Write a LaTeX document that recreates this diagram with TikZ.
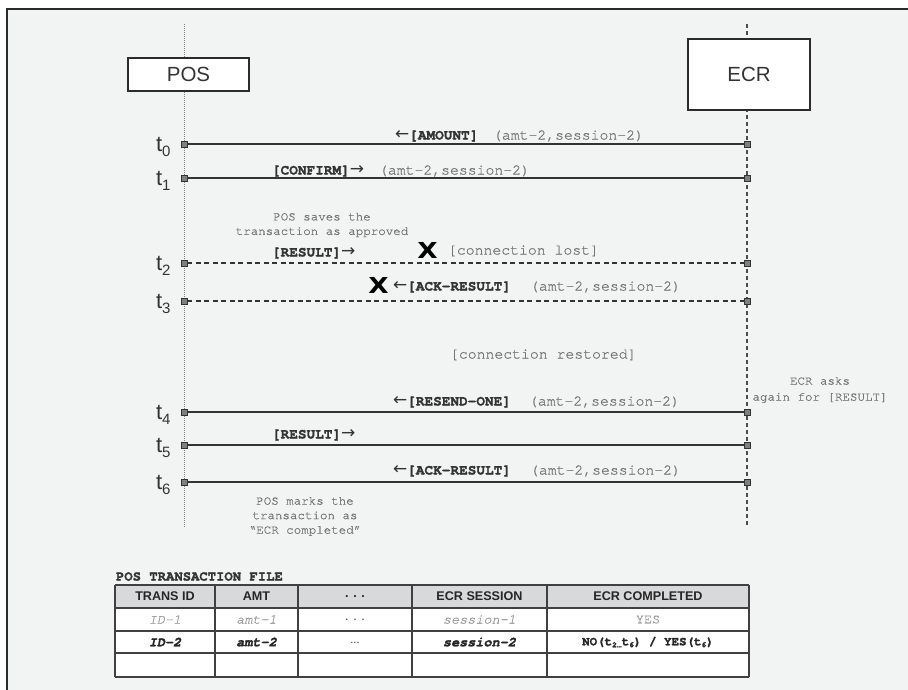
\documentclass[tikz,border=0pt]{standalone}
\usepackage{fontspec}
\setmainfont{Liberation Sans}
\setsansfont{Liberation Sans}
\setmonofont{TeX Gyre Cursor}[FakeBold=0.7, BoldFeatures={FakeBold=1.6}, BoldItalicFeatures={FakeBold=1.6}]
\newfontfamily\arrowfont{DejaVu Sans}
\newfontfamily\xfont{DejaVu Sans}
\usepackage{graphicx}
\definecolor{bgc}{HTML}{F2F3F3}
\definecolor{framec}{HTML}{2B2B2B}
\definecolor{darkc}{HTML}{333333}
\definecolor{midg}{HTML}{747474}
\definecolor{lightg}{HTML}{989898}
\definecolor{markc}{HTML}{7F7F7F}
\definecolor{hdr}{HTML}{D8D9DB}
\newcommand{\lar}{{\arrowfont\mdseries\fontsize{17}{17}\selectfont ←}}
\newcommand{\rar}{{\arrowfont\mdseries\fontsize{17}{17}\selectfont →}}
\newcommand{\sbs}[1]{\raisebox{-2pt}{\fontsize{8}{8}\selectfont #1}}
\tikzset{
 every node/.style={inner sep=0pt, outer sep=0pt},
 actor/.style={draw=framec, line width=2pt, fill=white, font=\fontsize{20.5}{24}\selectfont, text=darkc},
 msg/.style={draw=darkc, line width=1.1pt},
 lostmsg/.style={msg, dash pattern=on 5pt off 3.5pt},
 tick/.style={draw=darkc, fill=markc, line width=0.7pt, minimum size=6pt, inner sep=0pt},
 tlab/.style={anchor=base west, font=\fontsize{22}{22}\selectfont, text=darkc},
 cmd/.style={anchor=base west, font=\fontsize{14.4}{16}\selectfont\ttfamily\bfseries, text=darkc},
 arg/.style={anchor=base west, font=\fontsize{14.8}{16}\selectfont\ttfamily, text=midg},
 note/.style={align=center, font=\fontsize{12.5}{14.5}\selectfont\ttfamily, text=midg},
 xmark/.style={font=\fontsize{22}{22}\selectfont\xfont\bfseries, text=black},
 hcell/.style={font=\fontsize{12.6}{14}\selectfont\bfseries, text=black!85},
 r1cell/.style={font=\fontsize{13.5}{14}\selectfont\ttfamily\itshape, text=lightg},
 r2cell/.style={font=\fontsize{13.5}{14}\selectfont\ttfamily\bfseries\itshape, text=black!85},
}
\begin{document}
\begin{tikzpicture}[x=1pt,y=-1pt]
\useasboundingbox (0,0) rectangle (908,689);
\clip (0,0) rectangle (908,689);
\fill[white] (0,0) rectangle (908,689);
\draw[fill=bgc, draw=framec, line width=1.8pt] (7,9) rectangle (930,710);

% lifelines
\coordinate (posTop) at (184,24);
\coordinate (posBot) at (184,527);
\coordinate (ecrTop) at (747,24);
\coordinate (ecrBot) at (747,525);
\draw[draw=black!50, line width=0.8pt, dash pattern=on 1pt off 1pt] (posTop) -- (posBot);
\draw[draw=black!70, line width=1.3pt, dash pattern=on 4pt off 3pt] (ecrTop) -- (ecrBot);

% actors
\node[actor, minimum width=121pt, minimum height=33pt] (pos) at (188.5,74.5) {POS};
\node[actor, minimum width=122pt, minimum height=71pt] (ecr) at (749,74.5) {ECR};

% message lines
\foreach \i/\yy in {0/144,1/178,2/263,3/301,4/412,5/445,6/482}{
  \node[tick] (p\i) at (184,\yy) {};
  \node[tick] (e\i) at (747,\yy) {};
  \node[tlab] (t\i) at (156,\yy+7) {t\raisebox{-5.5pt}{\fontsize{15}{15}\selectfont \i}};
}
\draw[msg] (p0) -- (e0);
\draw[msg] (p1) -- (e1);
\draw[lostmsg] (p2) -- (e2);
\draw[lostmsg] (p3) -- (e3);
\draw[msg] (p4) -- (e4);
\draw[msg] (p5) -- (e5);
\draw[msg] (p6) -- (e6);

% labels
\node[cmd] (l0) at (395,139.5) {\lar[AMOUNT]};
\node[arg] (a0) at (493,139.5) {(amt-2,session-2)};

\node[cmd] (l1) at (272,174.5) {[CONFIRM]\rar};
\node[arg] (a1) at (379,174.5) {(amt-2,session-2)};

\node[note] (n1) at (322,225) {POS saves the\\transaction as approved};
\node[cmd] (l2) at (272,256.5) {[RESULT]\rar};
\node[xmark] (x2) at (427.5,250) {\scalebox{1.2}[1]{X}};
\node[arg] (a2) at (448,254.5) {[connection lost]};

\node[xmark] (x3) at (378.5,285.5) {\scalebox{1.2}[1]{X}};
\node[cmd] (l3) at (393,290.5) {\lar[ACK-RESULT]};
\node[arg] (a3) at (530,290.5) {(amt-2,session-2)};

\node[arg] (rs) at (450,358.5) {[connection restored]};

\node[note, font=\fontsize{12.5}{16}\selectfont\ttfamily] (n2) at (820,390) {ECR asks\\again for [RESULT]};
\node[cmd] (l4) at (393,405.5) {\lar[RESEND-ONE]};
\node[arg] (a4) at (529,405.5) {(amt-2,session-2)};

\node[cmd] (l5) at (272,438.5) {[RESULT]\rar};

\node[cmd] (l6) at (393,474.5) {\lar[ACK-RESULT]};
\node[arg] (a6) at (530,474.5) {(amt-2,session-2)};

\node[note] (n3) at (305,516.5) {POS marks the\\transaction as\\“ECR completed”};

% table
\node[anchor=west, font=\fontsize{13.9}{15}\selectfont\ttfamily\bfseries, text=darkc] (title) at (116,576.5) {POS TRANSACTION FILE};
\fill[hdr] (115,585) rectangle (749,608);
\fill[white] (115,608) rectangle (749,677);
\foreach \yy in {585,608,631,653,677}{
  \draw[draw=black!75, line width=1.5pt] (115,\yy) -- (749,\yy);
}
\foreach \xx in {115,215,298,412,547,749}{
  \draw[draw=black!75, line width=1.5pt] (\xx,585) -- (\xx,677);
}
\node[hcell] (h1) at (165,596.5) {TRANS ID};
\node[hcell] (h2) at (256.5,596.5) {AMT};
\node[hcell] (h3) at (355,596.5) {. . .};
\node[hcell] (h4) at (479.5,596.5) {ECR SESSION};
\node[hcell] (h5) at (648,596.5) {ECR COMPLETED};

\node[r1cell] (c11) at (165,619.5) {ID-1};
\node[r1cell] (c12) at (256.5,619.5) {amt-1};
\node[font=\fontsize{12.6}{14}\selectfont, text=darkc] (c13) at (355,620) {. . .};
\node[r1cell] (c14) at (479.5,619.5) {session-1};
\node[r1cell, font=\fontsize{13.5}{14}\selectfont\ttfamily] (c15) at (648,619.5) {YES};

\node[r2cell] (c21) at (165,642) {ID-2};
\node[r2cell] (c22) at (256.5,642) {amt-2};
\node[font=\fontsize{11}{12}\selectfont, text=darkc] (c23) at (355,643) {...};
\node[r2cell] (c24) at (479.5,642) {session-2};
\node[font=\fontsize{12.5}{14}\selectfont\ttfamily\bfseries, text=black!85] (c25) at (648,642) {NO(t\sbs{2}\sbs{…}t\sbs{6}) / YES(t\sbs{6})};
\end{tikzpicture}
\end{document}
